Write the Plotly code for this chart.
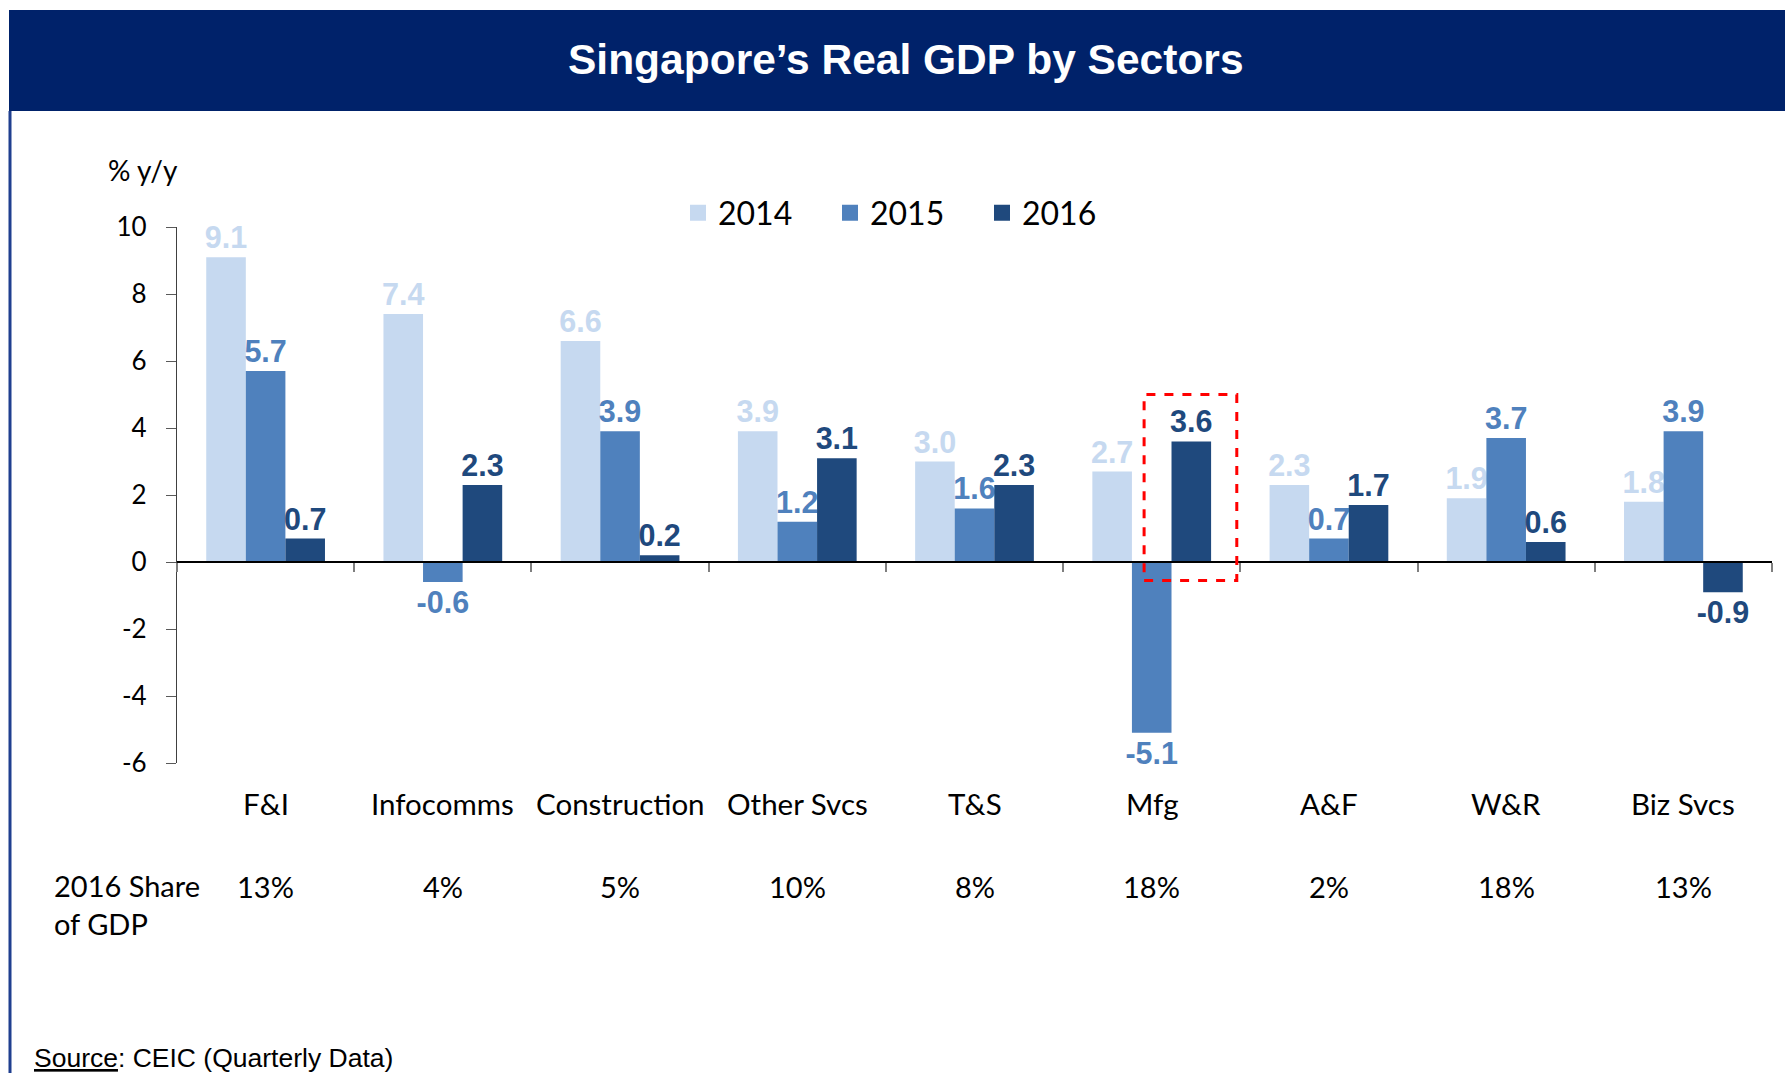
import plotly.graph_objects as go

# ---- data ----
categories = ["F&I", "Infocomms", "Construction", "Other Svcs", "T&S", "Mfg", "A&F", "W&R", "Biz Svcs"]
years = ["2014", "2015", "2016"]
gdp_2014 = [9.1, 7.4, 6.6, 3.9, 3.0, 2.7, 2.3, 1.9, 1.8]
gdp_2015 = [5.7, -0.6, 3.9, 1.2, 1.6, -5.1, 0.7, 3.7, 3.9]
gdp_2016 = [0.7, 2.3, 0.2, 3.1, 2.3, 3.6, 1.7, 0.6, -0.9]
share_2016 = ["13%", "4%", "5%", "10%", "8%", "18%", "2%", "18%", "13%"]
y_ticks = [-6, -4, -2, 0, 2, 4, 6, 8, 10]
highlight = "Mfg"

colors = ["#C6D9F0", "#4F81BD", "#1F497D"]
series = [gdp_2014, gdp_2015, gdp_2016]

W, H = 1785, 1073
L, R, T, B = 177, 13, 227, 310
PW, PH = W - L - R, H - T - B


def px_x(px):
    return (px - L) / PW


def px_y(py):
    return (H - B - py) / PH


AX_FONT = "Lato, 'Open Sans', sans-serif"
LBL_FONT = "'Liberation Sans', Arial, sans-serif"

fig = go.Figure()
for name, vals, col in zip(years, series, colors):
    fig.add_trace(go.Bar(
        name=name, x=categories, y=vals, legendgroup=name, showlegend=False,
        marker=dict(color=col, line=dict(width=0)),
        texttemplate="%{y:.1f}", textposition="outside", constraintext="none",
        textfont=dict(family=LBL_FONT, size=30.5, color=col, weight="bold"),
        cliponaxis=False,
    ))
# legend entries with larger square swatches
for name, col in zip(years, colors):
    fig.add_trace(go.Scatter(
        name=name, x=[None], y=[None], mode="markers", legendgroup=name,
        marker=dict(symbol="square", size=19, color=col), showlegend=True,
    ))

ymin, ymax = y_ticks[0], y_ticks[-1]
zero_pos = (0 - ymin) / (ymax - ymin)

annotations = []
# category labels and share row
for c, s in zip(categories, share_2016):
    annotations.append(dict(x=c, xref="x", y=px_y(803), yref="paper", text=c,
                            showarrow=False, xanchor="center", yanchor="middle",
                            font=dict(family=AX_FONT, size=29.5, color="black")))
    annotations.append(dict(x=c, xref="x", y=px_y(886), yref="paper", text=s,
                            showarrow=False, xanchor="center", yanchor="middle",
                            font=dict(family=AX_FONT, size=29, color="black")))
annotations += [
    dict(x=px_x(52), xref="paper", y=px_y(904), yref="paper",
         text="2016 Share<br>of GDP", showarrow=False, xanchor="left", yanchor="middle",
         align="left", font=dict(family=AX_FONT, size=29, color="black")),
    dict(x=px_x(106), xref="paper", y=px_y(170), yref="paper", text="% y/y",
         showarrow=False, xanchor="left", yanchor="middle",
         font=dict(family=AX_FONT, size=28, color="black")),
    dict(x=px_x(906), xref="paper", y=px_y(59), yref="paper",
         text="<b>Singapore\u2019s Real GDP by Sectors</b>", showarrow=False,
         xanchor="center", yanchor="middle",
         font=dict(family=LBL_FONT, size=42.5, color="white")),
    dict(x=px_x(32), xref="paper", y=px_y(1058), yref="paper",
         text="<u>Source</u>: CEIC (Quarterly Data)", showarrow=False,
         xanchor="left", yanchor="middle",
         font=dict(family=LBL_FONT, size=26.5, color="black")),
]

hi = categories.index(highlight)
shapes = [
    # title banner
    dict(type="rect", xref="paper", yref="paper", x0=px_x(9), x1=px_x(W + 5),
         y0=px_y(111), y1=px_y(10), fillcolor="#00226A", line=dict(width=0), layer="below"),
    # left frame line
    dict(type="line", xref="paper", yref="paper", x0=px_x(10), x1=px_x(10),
         y0=px_y(111), y1=px_y(H + 5), line=dict(color="#1F3F8F", width=3)),
    # highlight box
    dict(type="rect", xref="x", yref="y", x0=hi - 0.043, x1=hi + 0.48,
         y0=-0.55, y1=5.0, line=dict(color="#FF0000", width=3, dash="dash"),
         fillcolor="rgba(0,0,0,0)"),
]

fig.update_layout(
    width=W, height=H,
    margin=dict(l=L, r=R, t=T, b=B, pad=0),
    paper_bgcolor="white", plot_bgcolor="white",
    barmode="group", bargap=0.33, bargroupgap=0,
    uniformtext=dict(mode=False),
    showlegend=True,
    legend=dict(orientation="h", x=px_x(678), xanchor="left", y=px_y(213), yanchor="middle",
                font=dict(family=AX_FONT, size=32, color="black"),
                entrywidth=107, entrywidthmode="pixels", traceorder="normal",
                itemsizing="trace", bgcolor="rgba(0,0,0,0)"),
    xaxis=dict(type="category", categoryorder="array", categoryarray=categories,
               range=[-0.5, len(categories) - 0.5],
               anchor="free", position=zero_pos,
               showline=True, linecolor="black", linewidth=2,
               ticks="outside", tickson="boundaries", ticklen=9, tickwidth=1.5,
               tickcolor="#7F7F7F", showticklabels=False, showgrid=False, zeroline=False),
    yaxis=dict(range=[ymin, ymax], tickvals=y_ticks, ticktext=[str(v) for v in y_ticks],
               showline=True, linecolor="#404040", linewidth=1.2,
               ticks="outside", ticklen=10, tickwidth=1.2, tickcolor="#595959",
               ticklabelstandoff=14,
               tickfont=dict(family=AX_FONT, size=26, color="black"),
               showgrid=False, zeroline=False),
    annotations=annotations,
    shapes=shapes,
)

fig.write_html("out.html", config={"displayModeBar": False},
               post_script="document.body.style.margin='0';")
